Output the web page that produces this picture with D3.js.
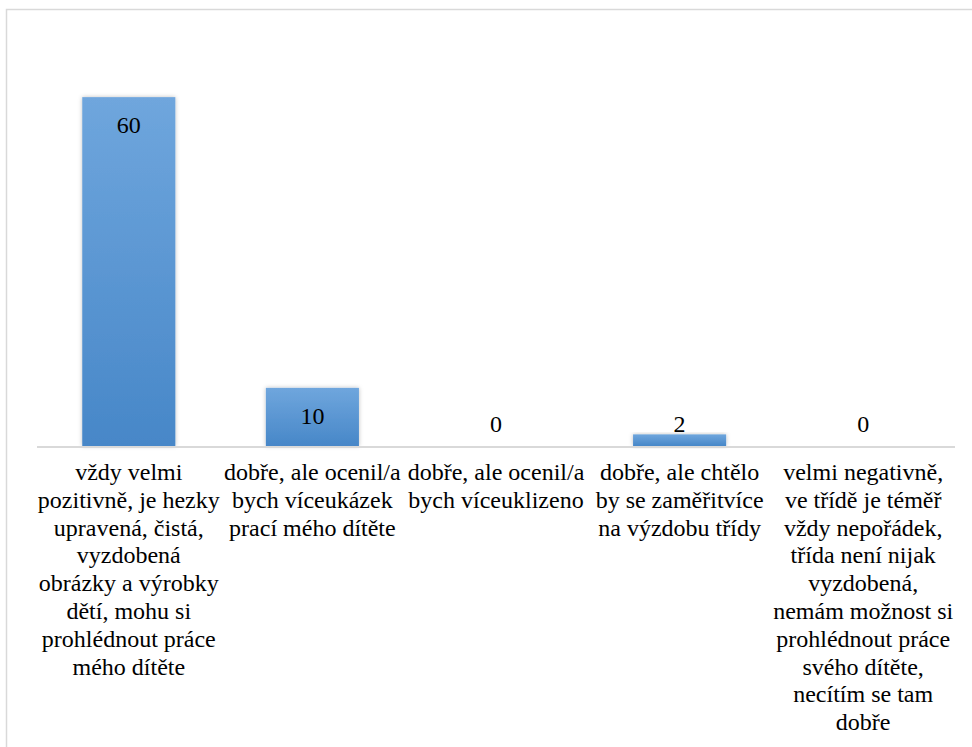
<!DOCTYPE html>
<html>
<head>
<meta charset="utf-8">
<script src="https://cdn.jsdelivr.net/npm/d3@7"></script>
<style>
  html, body { margin: 0; padding: 0; background: #ffffff; }
  svg { display: block; }
</style>
</head>
<body>
<div id="chart"></div>
<script>
// Answers and counts shown by the bars
const categoryLines = [
  ["vždy velmi", "pozitivně, je hezky", "upravená, čistá,", "vyzdobená", "obrázky a výrobky", "dětí, mohu si", "prohlédnout práce", "mého dítěte"],
  ["dobře, ale ocenil/a", "bych víceukázek", "prací mého dítěte"],
  ["dobře, ale ocenil/a", "bych víceuklizeno"],
  ["dobře, ale chtělo", "by se zaměřitvíce", "na výzdobu třídy"],
  ["velmi negativně,", "ve třídě je téměř", "vždy nepořádek,", "třída není nijak", "vyzdobená,", "nemám možnost si", "prohlédnout práce", "svého dítěte,", "necítím se tam", "dobře"]
];
const categoryKeys = ["c1", "c2", "c3", "c4", "c5"];
const values = [60, 10, 0, 2, 0];
const yMax = 70;

const W = 972, H = 747;
const plotLeft = 37, plotRight = 955, axisY = 446, plotTop = 39;
const serifFont = '"Liberation Serif"';

const svg = d3.select("#chart").append("svg")
  .attr("width", W).attr("height", H);

const defs = svg.append("defs");
const grad = defs.append("linearGradient")
  .attr("id", "barFill").attr("x1", 0).attr("y1", 0).attr("x2", 0).attr("y2", 1);
grad.append("stop").attr("offset", "0%").attr("stop-color", "#6fa6dd");
grad.append("stop").attr("offset", "100%").attr("stop-color", "#4787c8");

const shadow = defs.append("filter").attr("id", "barShadow")
  .attr("x", "-20%").attr("y", "-20%").attr("width", "140%").attr("height", "140%");
shadow.append("feDropShadow").attr("dx", 0).attr("dy", 0)
  .attr("stdDeviation", 2).attr("flood-color", "#000").attr("flood-opacity", 0.25);

// Chart frame (left and top edges visible)
svg.append("rect")
  .attr("x", 6.5).attr("y", 9.5)
  .attr("width", W + 20).attr("height", H + 20)
  .attr("fill", "none").attr("stroke", "#d9d9d9").attr("stroke-width", 1.5);

const x = d3.scaleBand().domain(categoryKeys).range([plotLeft, plotRight])
  .paddingInner(0.493).paddingOuter(0.2465);
const y = d3.scaleLinear().domain([0, yMax]).range([axisY, plotTop]);

// Bars
svg.append("g").selectAll("rect").data(values).join("rect")
  .attr("x", (d, i) => x(categoryKeys[i]))
  .attr("y", d => y(d))
  .attr("width", x.bandwidth())
  .attr("height", d => y(0) - y(d))
  .attr("fill", "url(#barFill)")
  .attr("filter", "url(#barShadow)");

// Category axis line
const axis = d3.axisBottom(x).tickSize(0).tickFormat("");
const axisG = svg.append("g").attr("transform", `translate(0,${axisY + 1})`).call(axis);
axisG.select(".domain").attr("stroke", "#d9d9d9").attr("stroke-width", 2)
  .attr("d", `M${plotLeft},0H${plotRight}`);

// Value labels
svg.append("g").selectAll("text").data(values).join("text")
  .attr("x", (d, i) => x(categoryKeys[i]) + x.bandwidth() / 2)
  .attr("y", d => Math.min(y(d) + 36, axisY - 14))
  .attr("text-anchor", "middle")
  .attr("font-size", 24)
  .attr("fill", "#000")
  .style("font-family", serifFont)
  .text(d => d);

// Category labels, one text element per wrapped line
const lineRows = categoryLines.flatMap((lines, i) =>
  lines.map((ln, j) => ({ key: categoryKeys[i], row: j, text: ln })));
svg.append("g").selectAll("text").data(lineRows).join("text")
  .attr("x", d => x(d.key) + x.bandwidth() / 2)
  .attr("y", d => 480 + d.row * 27.8)
  .attr("text-anchor", "middle")
  .attr("font-size", 24)
  .attr("fill", "#000")
  .style("font-family", serifFont)
  .text(d => d.text);
</script>
</body>
</html>
